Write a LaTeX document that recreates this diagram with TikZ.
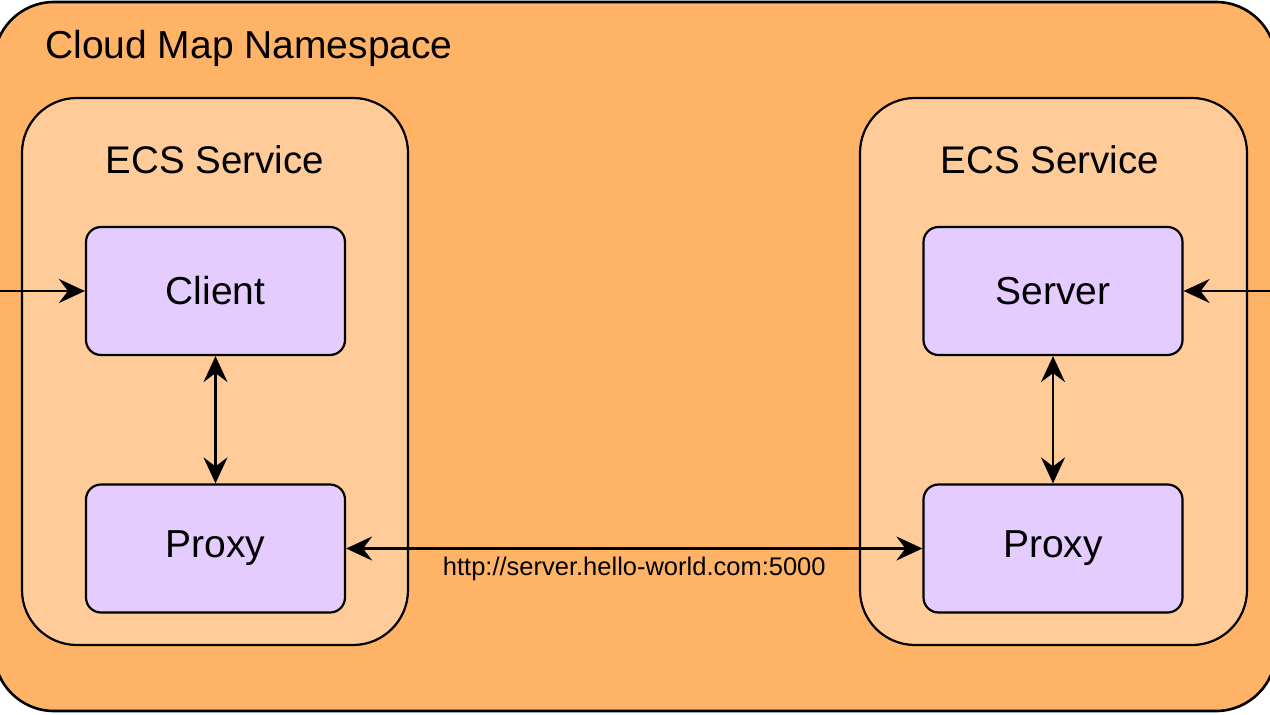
\documentclass[tikz,border=0pt]{standalone}
\usepackage{fontspec}
\setmainfont{Liberation Sans}
\usetikzlibrary{arrows.meta}
\definecolor{outerc}{HTML}{FFB366}
\definecolor{innerc}{HTML}{FFCC99}
\definecolor{boxc}{HTML}{E5CCFF}
\tikzset{
 svc/.style={draw=black, line width=2.2pt, fill=innerc, rounded corners=55pt},
 comp/.style={draw=black, line width=2.2pt, fill=boxc, rounded corners=15pt, minimum width=259pt, minimum height=128pt, font=\fontsize{39}{46}\selectfont, inner sep=0pt},
 tip/.tip={Stealth[length=26pt,width=24pt,inset=9pt]},
 conn/.style={line width=2.2pt, -tip},
 dconn/.style={line width=2.2pt, tip-tip}
}
\begin{document}
\begin{tikzpicture}[x=1pt,y=-1pt]
\useasboundingbox (0,0) rectangle (1270,715);
\begin{scope}
\clip (0,0) rectangle (1270,715);
\draw[line width=2.6pt, fill=outerc, rounded corners=60pt] (-6,2) rectangle (1276,711);
\end{scope}
\node[anchor=west, font=\fontsize{39}{46}\selectfont, inner sep=0pt] (ns) at (45,48) {Cloud Map Namespace};
\draw[svc] (22,98) rectangle (408,645);
\draw[svc] (860,98) rectangle (1247,645);
\node[font=\fontsize{38.5}{46}\selectfont] (t1) at (215,160) {ECS Service};
\node[font=\fontsize{38.5}{46}\selectfont] (t2) at (1050,160) {ECS Service};
\node[comp] (client) at (215.5,291) {Client};
\node[comp] (proxy1) at (215.5,548.5) {Proxy};
\node[comp] (server) at (1053,291) {Server};
\node[comp] (proxy2) at (1053,548.5) {Proxy};
\coordinate (lin) at (0,291);
\coordinate (rin) at (1270,291);
\draw[conn] (lin) -- (client.west);
\draw[conn] (rin) -- (server.east);
\draw[dconn] (client) -- (proxy1);
\draw[dconn] (server) -- (proxy2);
\draw[dconn] (proxy1) -- node[below=4pt, font=\fontsize{25.5}{30}\selectfont] (url) {http://server.hello-world.com:5000} (proxy2);
\end{tikzpicture}
\end{document}
